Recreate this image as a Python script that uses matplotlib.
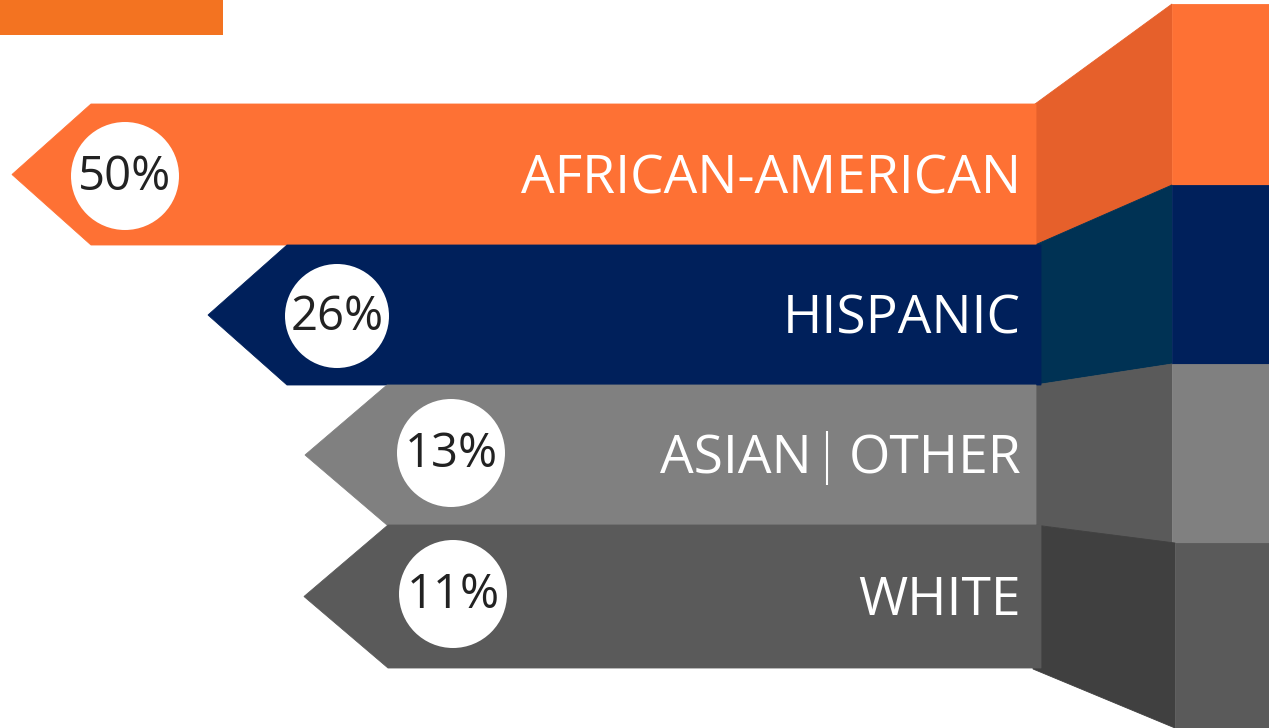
"""Arrow banners with percentages, drawn as patches on a pixel-sized axes."""
import matplotlib
matplotlib.use("Agg")
import matplotlib.pyplot as plt
from matplotlib.patches import Polygon, Circle, Rectangle

# data
categories = ["AFRICAN-AMERICAN", "HISPANIC", "ASIAN|OTHER", "WHITE"]
percents = [50, 26, 13, 11]

# styles
front_colors = ["#FE7134", "#00205B", "#808080", "#5A5A5A"]
side_colors = ["#E6602B", "#003254", "#5A5A5A", "#404040"]

# layout (pixels, y grows downward)
bar_tops = [104, 245, 385, 525]
bar_bottoms = [245, 385, 525, 668]
tip_x = [12, 208, 305, 304]
body_x = [91, 287, 387, 388]
body_end = [1036, 1041, 1036, 1041]
side_start = 1035  # sides begin behind the bar ends so they share edges
face_x = [1172, 1172, 1172, 1175]
face_tops = [4, 185, 364, 543]
face_bottoms = [185, 364, 543, 728]
circle_x = [125, 337, 451, 453]
circle_y = [176, 316, 453, 594]
circle_r = [54, 52, 54, 54]

W, H = 1269, 728
fig = plt.figure(figsize=(W / 100, H / 100), dpi=100)
ax = fig.add_axes([0, 0, 1, 1])
ax.set_xlim(0, W)
ax.set_ylim(H, 0)
ax.axis("off")

font = ["Open Sans", "DejaVu Sans"]
label_x = 1021

# small orange tab top left
ax.add_patch(Rectangle((0, 0), 223, 35, color="#F37321", lw=0))

for i in range(len(categories)):
    top, bot = bar_tops[i], bar_bottoms[i]
    mid = (top + bot) / 2
    # arrow body
    arrow = [(tip_x[i], mid), (body_x[i], top), (body_end[i], top),
             (body_end[i], bot), (body_x[i], bot)]
    ax.add_patch(Polygon(arrow, closed=True, fc=front_colors[i],
                         ec=front_colors[i], lw=0.6, zorder=2))
    # slanted side going to the right edge block
    side_bot = bot if i < len(categories) - 1 else bot + 1
    side = [(side_start, top), (face_x[i], face_tops[i]),
            (face_x[i], face_bottoms[i]), (side_start - 2 if i == 3 else side_start, side_bot)]
    ax.add_patch(Polygon(side, closed=True, fc=side_colors[i],
                         ec=side_colors[i], lw=0.6, zorder=1))
    ax.add_patch(Rectangle((face_x[i], face_tops[i]), W - face_x[i],
                           face_bottoms[i] - face_tops[i],
                           fc=front_colors[i], ec=front_colors[i],
                           lw=0.6, zorder=1))
    # percent badge
    ax.add_patch(Circle((circle_x[i], circle_y[i]), circle_r[i],
                        color="white", lw=0, zorder=3))
    ax.text(circle_x[i], circle_y[i] + 1, f"{percents[i]}%", ha="center",
            va="center", fontsize=34, color="#222222", family=font, zorder=4)

    # label, with a thin divider when there are two parts
    parts = categories[i].split("|")
    y = mid + 5
    if len(parts) == 1:
        ax.text(label_x, y, parts[0], ha="right", va="center",
                fontsize=38.3, color="white", family=font, zorder=4)
    else:
        right = ax.text(label_x, y, parts[1], ha="right", va="center",
                        fontsize=38.3, color="white", family=font, zorder=4)
        renderer = fig.canvas.get_renderer()
        bb = right.get_window_extent(renderer)
        x0 = ax.transData.inverted().transform((bb.x0, 0))[0]
        line_x = x0 - 21
        ax.plot([line_x, line_x], [y - 29, y + 25], color="white",
                lw=1.5, solid_capstyle="butt", zorder=4)
        ax.text(line_x - 16, y, parts[0], ha="right", va="center",
                fontsize=38.3, color="white", family=font, zorder=4)

fig.savefig("out.png", dpi=100)
